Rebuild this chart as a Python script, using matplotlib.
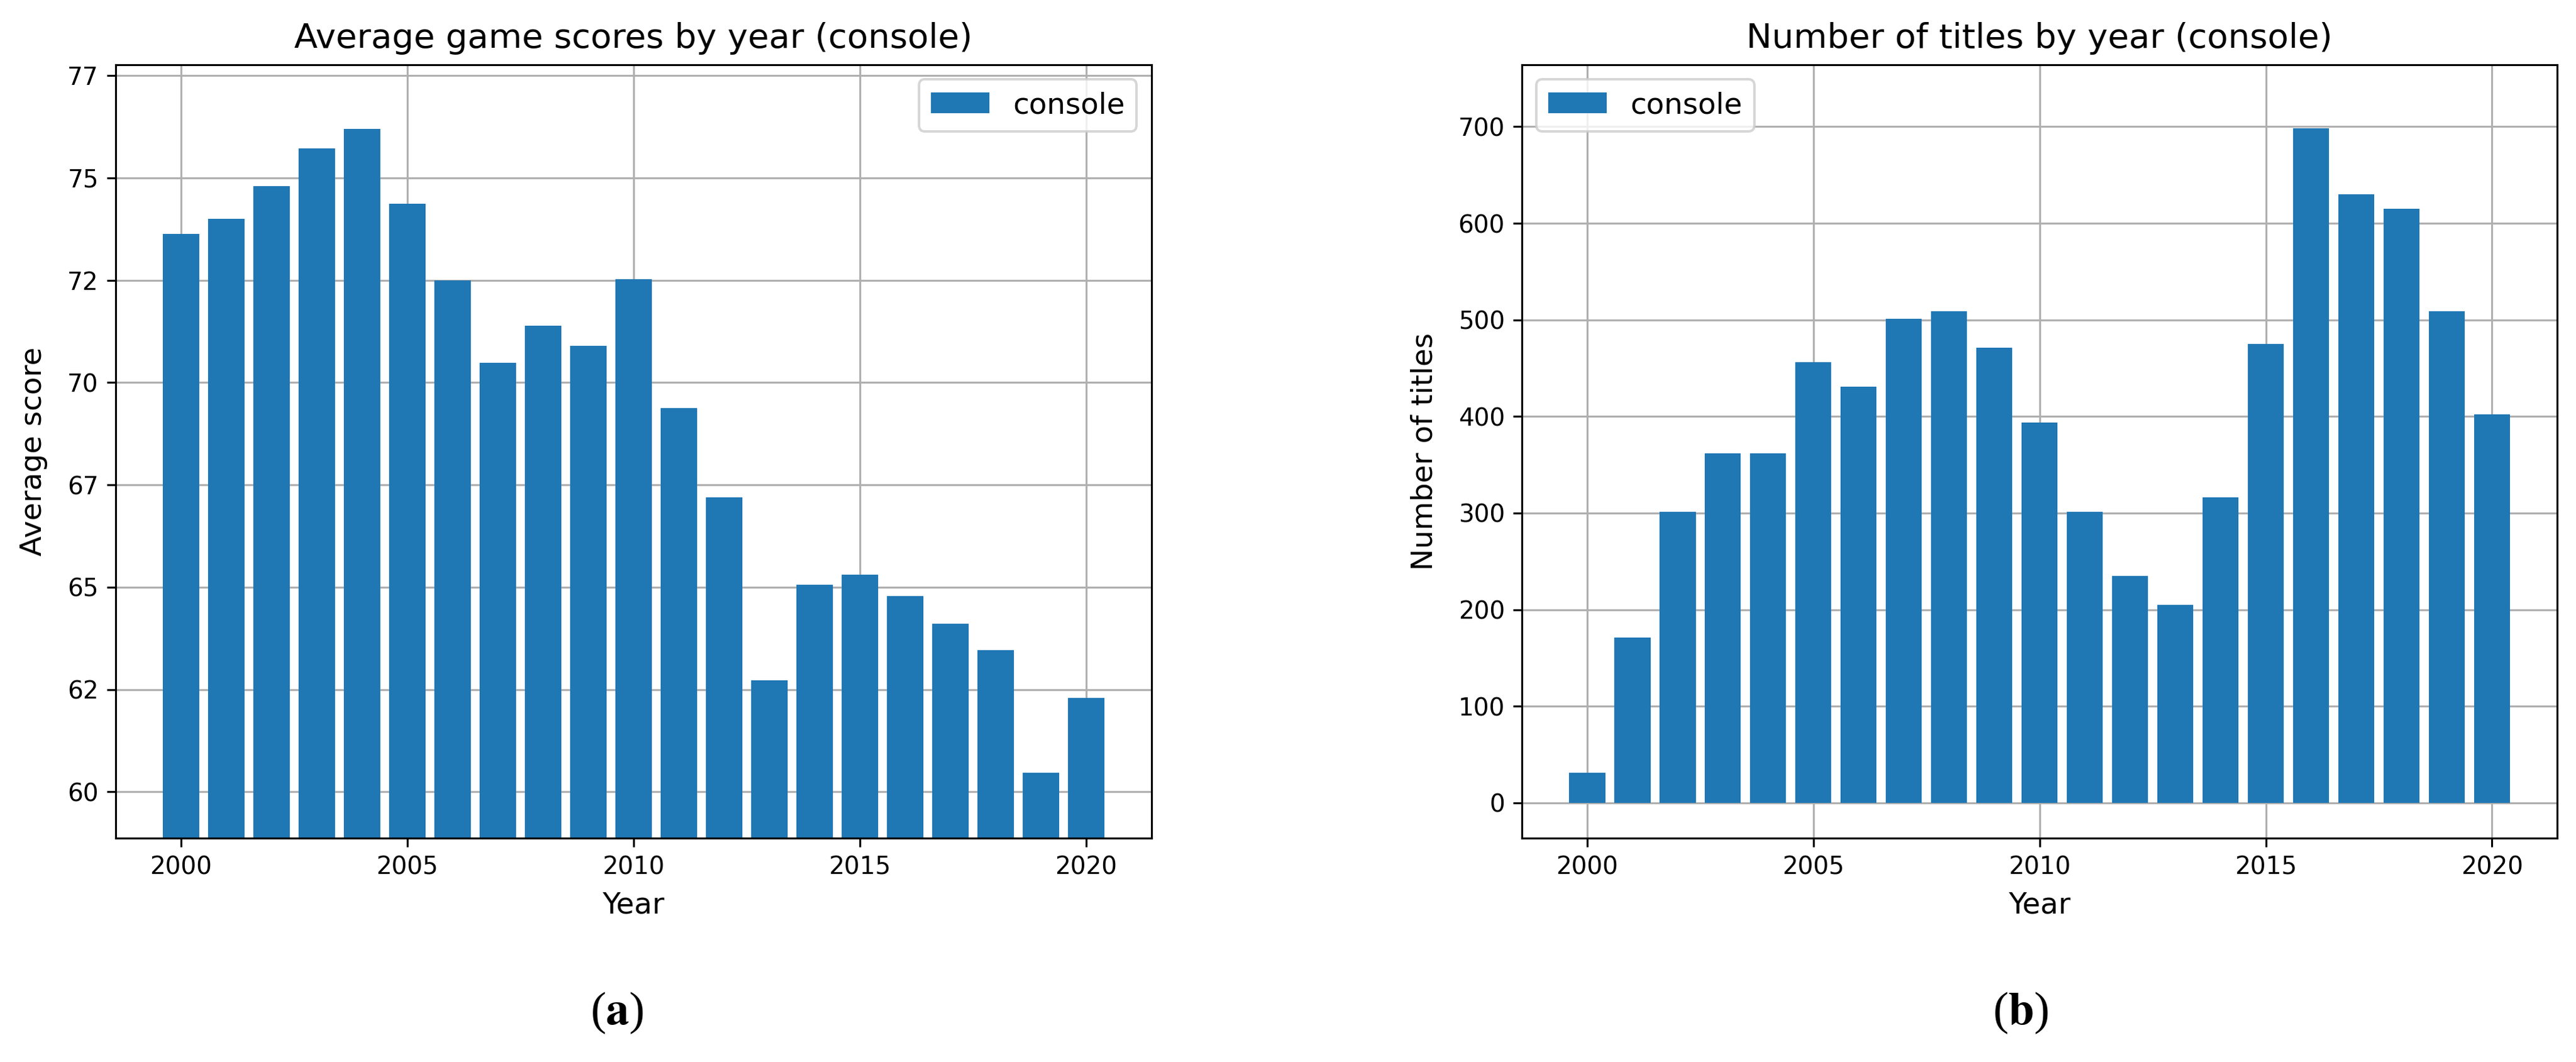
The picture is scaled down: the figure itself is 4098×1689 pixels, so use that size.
import matplotlib
matplotlib.use('Agg')
import matplotlib.pyplot as plt
from matplotlib.ticker import MultipleLocator, FuncFormatter

years = list(range(2000, 2021))

# average score per year (console)
avg_scores = [73.63, 74.00, 74.79, 75.72, 76.20, 74.36, 72.49, 70.48, 71.38, 70.90,
              72.53, 69.37, 67.20, 62.73, 65.06, 65.30, 64.79, 64.10, 63.46, 60.46, 62.29]

# number of titles per year (console)
num_titles = [31, 171, 301, 362, 362, 456, 431, 501, 509, 471,
              394, 301, 235, 205, 316, 475, 698, 630, 615, 509, 402]

plt.rcParams['font.family'] = 'DejaVu Sans'
plt.rcParams['mathtext.fontset'] = 'stix'
plt.rcParams['axes.labelsize'] = 12
plt.rcParams['axes.titlesize'] = 14
plt.rcParams['legend.fontsize'] = 12

# default matplotlib sizes, rendered at high dpi
dpi = 280
fig = plt.figure(figsize=(4098 / dpi, 1689 / dpi), dpi=dpi)
ax1 = fig.add_axes([0.0449, 0.2108, 0.4021, 0.7282])
ax2 = fig.add_axes([0.5908, 0.2108, 0.4019, 0.7282])

# (a) average scores
ax1.bar(years, avg_scores, color='tab:blue', label='console')
ax1.set_ylim(58.87, 77.76)
ax1.yaxis.set_major_locator(MultipleLocator(2.5))
ax1.yaxis.set_major_formatter(FuncFormatter(lambda v, p: str(int(v))))
ax1.set_title('Average game scores by year (console)', pad=7)
ax1.set_xlabel('Year', labelpad=5)
ax1.set_ylabel('Average score', labelpad=8)
ax1.legend(loc='upper right')

# (b) number of titles
ax2.bar(years, num_titles, color='tab:blue', label='console')
ax2.set_ylim(-36.5, 764)
ax2.set_title('Number of titles by year (console)', pad=7)
ax2.set_xlabel('Year', labelpad=5)
ax2.set_ylabel('Number of titles', labelpad=8)
ax2.legend(loc='upper left')

for ax in (ax1, ax2):
    ax.set_xticks([2000, 2005, 2010, 2015, 2020])
    ax.grid(True)
    ax.set_axisbelow(True)

fig.text(0.2394, 0.046, r'($\mathbf{a}$)', ha='center', va='center',
         fontsize=19, family='Liberation Serif')
fig.text(0.7845, 0.046, r'($\mathbf{b}$)', ha='center', va='center',
         fontsize=19, family='Liberation Serif')

fig.savefig('out.png', dpi=dpi)
